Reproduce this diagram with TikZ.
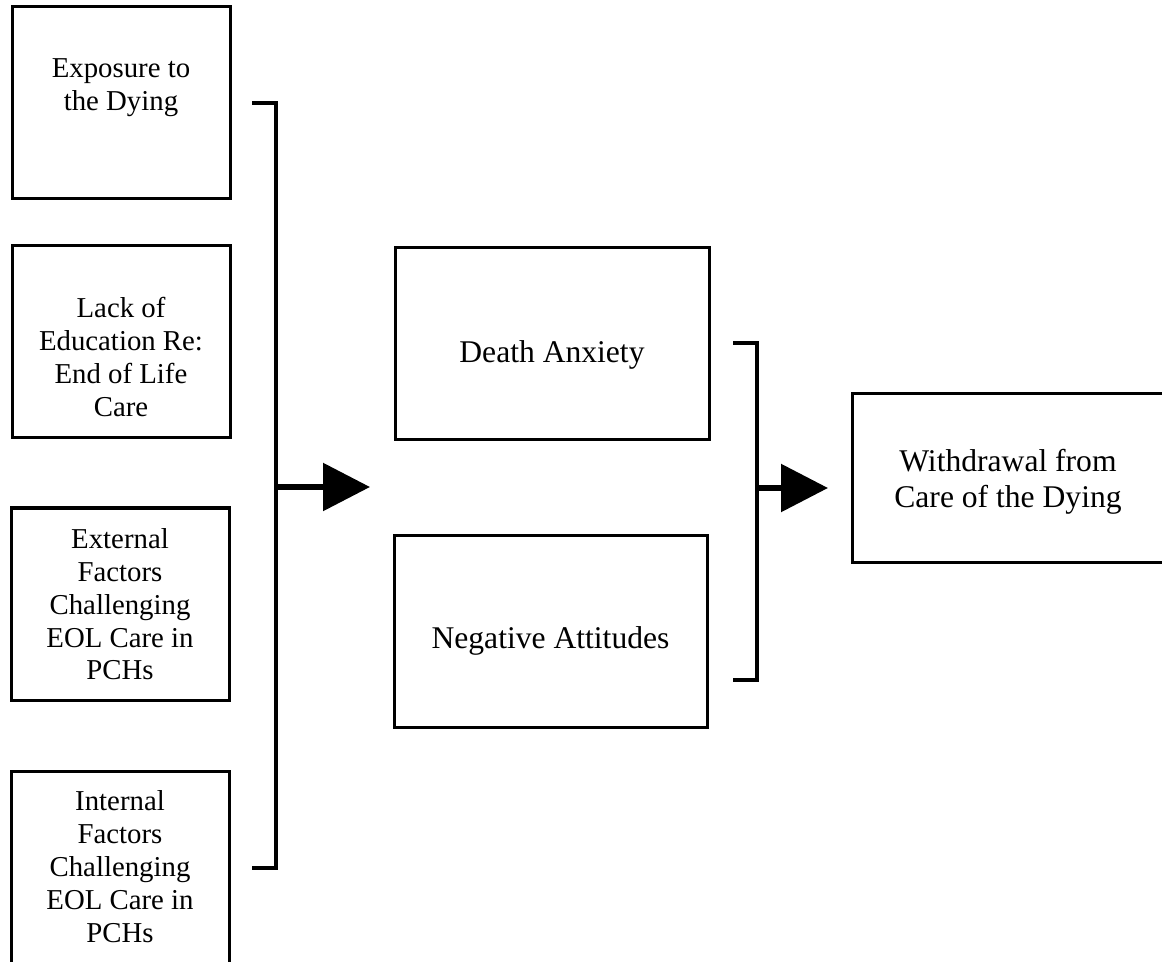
\documentclass[tikz,border=0pt]{standalone}
\usepackage{fontspec}
\setmainfont{Liberation Serif}
\usetikzlibrary{arrows.meta}
\tikzset{
  box/.style={draw, line width=1.5pt, inner sep=0pt},
  small/.style={font=\fontsize{14.4}{16.5}\selectfont},
  big/.style={font=\fontsize{15.8}{18.5}\selectfont},
  bracket/.style={line width=2.4pt},
  bigarrow/.style={line width=3pt, -{Triangle[length=23.5pt,width=23.5pt]}}
}
\newcommand{\boxtext}[4]{\parbox[c][#2][t]{#1}{\centering\rule{0pt}{#3}#4}}
\begin{document}
\begin{tikzpicture}[x=0.5pt,y=-0.5pt]
\clip (0,0) rectangle (1162,962);
\fill[white] (0,0) rectangle (1162,962);
% left boxes
\node[box,small] (e1) at (121,103) {\boxtext{109pt}{96pt}{35.5pt}{Exposure to\\the Dying}};
\node[box,small] (e2) at (121,342) {\boxtext{109pt}{96pt}{36pt}{Lack of\\Education Re:\\End of Life\\Care}};
\node[box,small] (e3) at (120,604) {\boxtext{109pt}{96pt}{20pt}{External\\Factors\\Challenging\\EOL Care in\\PCHs}};
\node[box,small] (e4) at (120,867) {\boxtext{109pt}{96pt}{19.5pt}{Internal\\Factors\\Challenging\\EOL Care in\\PCHs}};
% middle boxes
\node[box,big] (da) at (552,344) {\boxtext{157pt}{96pt}{57.5pt}{Death Anxiety}};
\node[box,big] (na) at (550.5,631) {\boxtext{156.5pt}{96pt}{56.5pt}{Negative Attitudes}};
% right box
\node[box,big] (wd) at (1008,478) {\boxtext{156pt}{84pt}{38.5pt}{Withdrawal from\\Care of the Dying}};
% left bracket
\coordinate (lt) at (252,103);
\coordinate (lb) at (252,868);
\coordinate (lm) at (276,487);
\coordinate (lh) at (370,487);
\draw[bracket] (lt) -- (276,103) -- (276,868) -- (lb);
\draw[bigarrow] (lm) -- (lh);
% right bracket
\coordinate (rt) at (733,343);
\coordinate (rb) at (733,680);
\coordinate (rm) at (757,488);
\coordinate (rh) at (828,488);
\draw[bracket] (rt) -- (757,343) -- (757,680) -- (rb);
\draw[bigarrow] (rm) -- (rh);
\end{tikzpicture}
\end{document}
